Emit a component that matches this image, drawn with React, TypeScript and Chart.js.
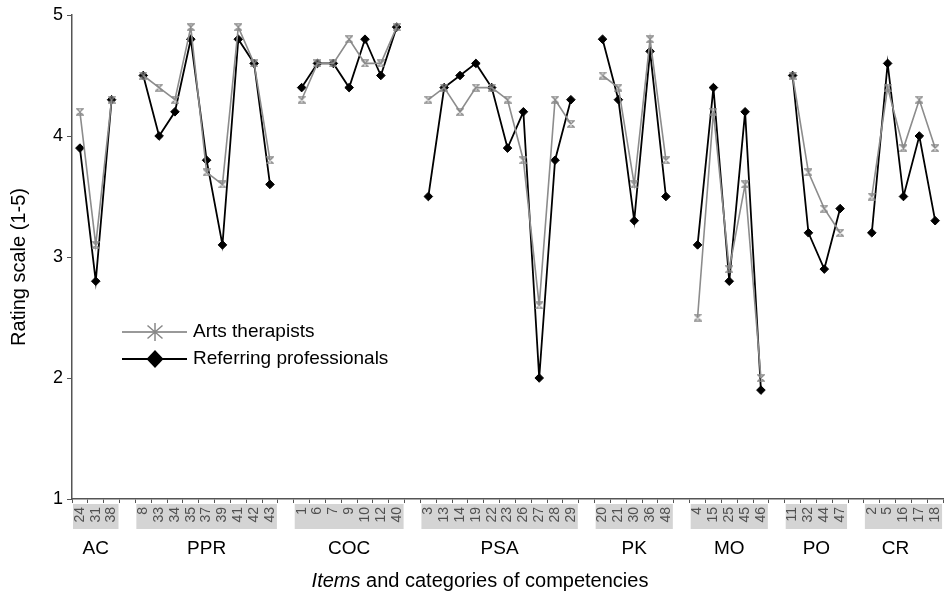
import React, { useEffect, useRef } from "react";
import { Chart, registerables } from "chart.js";

Chart.register(...registerables);

const FONT = "'Liberation Sans', Arial, sans-serif";

// Category (competency group) names and the item numbers in each group
const groupNames = ["AC", "PPR", "COC", "PSA", "PK", "MO", "PO", "CR"];
const groupItems = [
  ["24", "31", "38"],
  ["8", "33", "34", "35", "37", "39", "41", "42", "43"],
  ["1", "6", "7", "9", "10", "12", "40"],
  ["3", "13", "14", "19", "22", "23", "26", "27", "28", "29"],
  ["20", "21", "30", "36", "48"],
  ["4", "15", "25", "45", "46"],
  ["11", "32", "44", "47"],
  ["2", "5", "16", "17", "18"],
];
// Where the group names sit on the item axis (slot index)
const groupLabelAt = [1, 8, 17, 26.5, 35, 41, 46.5, 51.5];

// Ratings, per group
const artsTherapists = [
  [4.2, 3.1, 4.3],
  [4.5, 4.4, 4.3, 4.9, 3.7, 3.6, 4.9, 4.6, 3.8],
  [4.3, 4.6, 4.6, 4.8, 4.6, 4.6, 4.9],
  [4.3, 4.4, 4.2, 4.4, 4.4, 4.3, 3.8, 2.6, 4.3, 4.1],
  [4.5, 4.4, 3.6, 4.8, 3.8],
  [2.5, 4.2, 2.9, 3.6, 2.0],
  [4.5, 3.7, 3.4, 3.2],
  [3.5, 4.4, 3.9, 4.3, 3.9],
];
const referringProfessionals = [
  [3.9, 2.8, 4.3],
  [4.5, 4.0, 4.2, 4.8, 3.8, 3.1, 4.8, 4.6, 3.6],
  [4.4, 4.6, 4.6, 4.4, 4.8, 4.5, 4.9],
  [3.5, 4.4, 4.5, 4.6, 4.4, 3.9, 4.2, 2.0, 3.8, 4.3],
  [4.8, 4.3, 3.3, 4.7, 3.5],
  [3.1, 4.4, 2.8, 4.2, 1.9],
  [4.5, 3.2, 2.9, 3.4],
  [3.2, 4.6, 3.5, 4.0, 3.3],
];
const seriesNames = ["Arts therapists", "Referring professionals"];
const yTicks = [1, 2, 3, 4, 5];

// Flatten groups with an empty slot between groups
function flatten<T>(groups: T[][], gap: T): T[] {
  const out: T[] = [];
  groups.forEach((g, i) => {
    out.push(...g);
    if (i < groups.length - 1) out.push(gap);
  });
  return out;
}

const labels = flatten(groupItems, "");
const artsData = flatten<number | null>(artsTherapists, null);
const refData = flatten<number | null>(referringProfessionals, null);
const groupSpans = (() => {
  const spans: { start: number; end: number }[] = [];
  let idx = 0;
  groupItems.forEach((g) => {
    spans.push({ start: idx, end: idx + g.length - 1 });
    idx += g.length + 1;
  });
  return spans;
})();

function makeHourglass(size: number, color: string, lw: number) {
  const c = document.createElement("canvas");
  c.width = size;
  c.height = size;
  const ctx = c.getContext("2d")!;
  ctx.strokeStyle = color;
  ctx.lineWidth = lw;
  const a = lw / 2 + 0.3;
  const b = size - a;
  ctx.beginPath();
  ctx.moveTo(a, a);
  ctx.lineTo(b, a);
  ctx.lineTo(a, b);
  ctx.lineTo(b, b);
  ctx.closePath();
  ctx.stroke();
  return c;
}

const decorPlugin = {
  id: "decor",
  beforeDraw(chart: any) {
    const ctx = chart.ctx;
    const xs = chart.scales.x;
    const half = (xs.getPixelForValue(1) - xs.getPixelForValue(0)) / 2;
    const top = chart.chartArea.bottom + 5;
    ctx.save();
    ctx.fillStyle = "#d4d4d4";
    groupSpans.forEach((s) => {
      const x0 = xs.getPixelForValue(s.start) - half + 1;
      const x1 = xs.getPixelForValue(s.end) + half - 1;
      ctx.fillRect(x0, top, x1 - x0, 25);
    });
    ctx.restore();
  },
  afterDraw(chart: any) {
    const ctx = chart.ctx;
    ctx.save();
    // y-axis title
    ctx.fillStyle = "#000";
    ctx.font = `20px ${FONT}`;
    ctx.textAlign = "center";
    ctx.textBaseline = "middle";
    ctx.translate(19, 267);
    ctx.rotate(-Math.PI / 2);
    ctx.fillText("Rating scale (1-5)", 0, 0);
    ctx.restore();

    // x-axis title with italic first word
    ctx.save();
    ctx.fillStyle = "#000";
    ctx.textBaseline = "middle";
    ctx.textAlign = "left";
    const p1 = "Items";
    const p2 = " and categories of competencies";
    ctx.font = `italic 20px ${FONT}`;
    const w1 = ctx.measureText(p1).width;
    ctx.font = `20px ${FONT}`;
    const w2 = ctx.measureText(p2).width;
    const cx = 480;
    const ty = 581;
    const x = cx - (w1 + w2) / 2;
    ctx.font = `italic 20px ${FONT}`;
    ctx.fillText(p1, x, ty);
    ctx.font = `20px ${FONT}`;
    ctx.fillText(p2, x + w1, ty);
    ctx.restore();

    // legend inside the plot
    ctx.save();
    const lx0 = 122, lx1 = 187, mx = 155;
    const rows = [332, 359];
    ctx.strokeStyle = "#999";
    ctx.lineWidth = 2;
    ctx.beginPath();
    ctx.moveTo(lx0, rows[0]);
    ctx.lineTo(lx1, rows[0]);
    ctx.stroke();
    ctx.strokeStyle = "#888";
    ctx.lineWidth = 1.5;
    ctx.beginPath();
    ctx.moveTo(mx, rows[0] - 9);
    ctx.lineTo(mx, rows[0] + 9);
    ctx.moveTo(mx - 7.5, rows[0] - 6.5);
    ctx.lineTo(mx + 7.5, rows[0] + 6.5);
    ctx.moveTo(mx + 7.5, rows[0] - 6.5);
    ctx.lineTo(mx - 7.5, rows[0] + 6.5);
    ctx.stroke();
    ctx.strokeStyle = "#000";
    ctx.lineWidth = 2;
    ctx.beginPath();
    ctx.moveTo(lx0, rows[1]);
    ctx.lineTo(lx1, rows[1]);
    ctx.stroke();
    ctx.fillStyle = "#000";
    ctx.beginPath();
    ctx.moveTo(mx, rows[1] - 9);
    ctx.lineTo(mx + 8.5, rows[1]);
    ctx.lineTo(mx, rows[1] + 9);
    ctx.lineTo(mx - 8.5, rows[1]);
    ctx.closePath();
    ctx.fill();
    ctx.fillStyle = "#000";
    ctx.font = `19px ${FONT}`;
    ctx.textAlign = "left";
    ctx.textBaseline = "middle";
    ctx.fillText(seriesNames[0], 193, rows[0]);
    ctx.fillText(seriesNames[1], 193, rows[1]);
    ctx.restore();
  },
};

export default function App() {
  const ref = useRef<HTMLCanvasElement>(null);

  useEffect(() => {
    if (!ref.current) return;
    const hourglass = makeHourglass(8, "#8a8a8a", 1.3);
    const chart = new Chart(ref.current, {
      type: "line",
      data: {
        labels,
        datasets: [
          {
            label: seriesNames[0],
            data: artsData,
            borderColor: "#8c8c8c",
            borderWidth: 1.6,
            pointStyle: hourglass as any,
            pointRadius: 4,
            backgroundColor: "#8c8c8c",
            spanGaps: false,
            tension: 0,
          },
          {
            label: seriesNames[1],
            data: refData,
            borderColor: "#000",
            borderWidth: 1.8,
            pointStyle: "rectRot",
            pointRadius: 4.3,
            pointBackgroundColor: "#000",
            pointBorderColor: "#000",
            pointBorderWidth: 1,
            spanGaps: false,
            tension: 0,
          },
        ],
      },
      options: {
        animation: false,
        responsive: false,
        devicePixelRatio: 1,
        events: [],
        layout: { padding: { top: 15, left: 0, right: 0, bottom: 0 } },
        plugins: {
          legend: { display: false },
          tooltip: { enabled: false },
          title: { display: false },
        },
        scales: {
          x: {
            type: "category",
            offset: true,
            grid: {
              offset: true,
              drawOnChartArea: false,
              drawTicks: true,
              tickLength: 4,
              color: "#555",
              lineWidth: 1,
            },
            border: { display: true, color: "#555", width: 1.5 },
            ticks: {
              autoSkip: false,
              maxRotation: 90,
              minRotation: 90,
              padding: 4,
              color: "#505050",
              font: { family: FONT, size: 14 },
            },
            afterFit: (s: any) => {
              s.height = 37;
            },
          },
          xg: {
            type: "linear",
            position: "bottom",
            weight: 1,
            min: -0.5,
            max: labels.length - 0.5,
            grid: { display: false, drawTicks: false },
            border: { display: false },
            afterBuildTicks: (s: any) => {
              s.ticks = groupLabelAt.map((v) => ({ value: v }));
            },
            ticks: {
              autoSkip: false,
              maxRotation: 0,
              minRotation: 0,
              padding: 1,
              color: "#000",
              font: { family: FONT, size: 19 },
              callback: (_v: any, i: number) => groupNames[i],
            },
            afterFit: (s: any) => {
              s.height = 62;
            },
          },
          y: {
            type: "linear",
            min: 1,
            max: 5,
            afterBuildTicks: (s: any) => {
              s.ticks = yTicks.map((v) => ({ value: v }));
            },
            ticks: {
              padding: 4,
              color: "#000",
              font: { family: FONT, size: 18 },
            },
            grid: { drawOnChartArea: false, tickLength: 5, color: "#555" },
            border: { color: "#555", width: 1.5 },
            afterFit: (s: any) => {
              s.width = 72;
            },
          },
        },
      },
      plugins: [decorPlugin],
    });
    return () => chart.destroy();
  }, []);

  return (
    <div
      style={{
        position: "fixed",
        left: 0,
        top: 0,
        width: 950,
        height: 598,
        overflow: "hidden",
        background: "#fff",
      }}
    >
      <canvas ref={ref} width={956} height={598} style={{ display: "block" }} />
    </div>
  );
}
